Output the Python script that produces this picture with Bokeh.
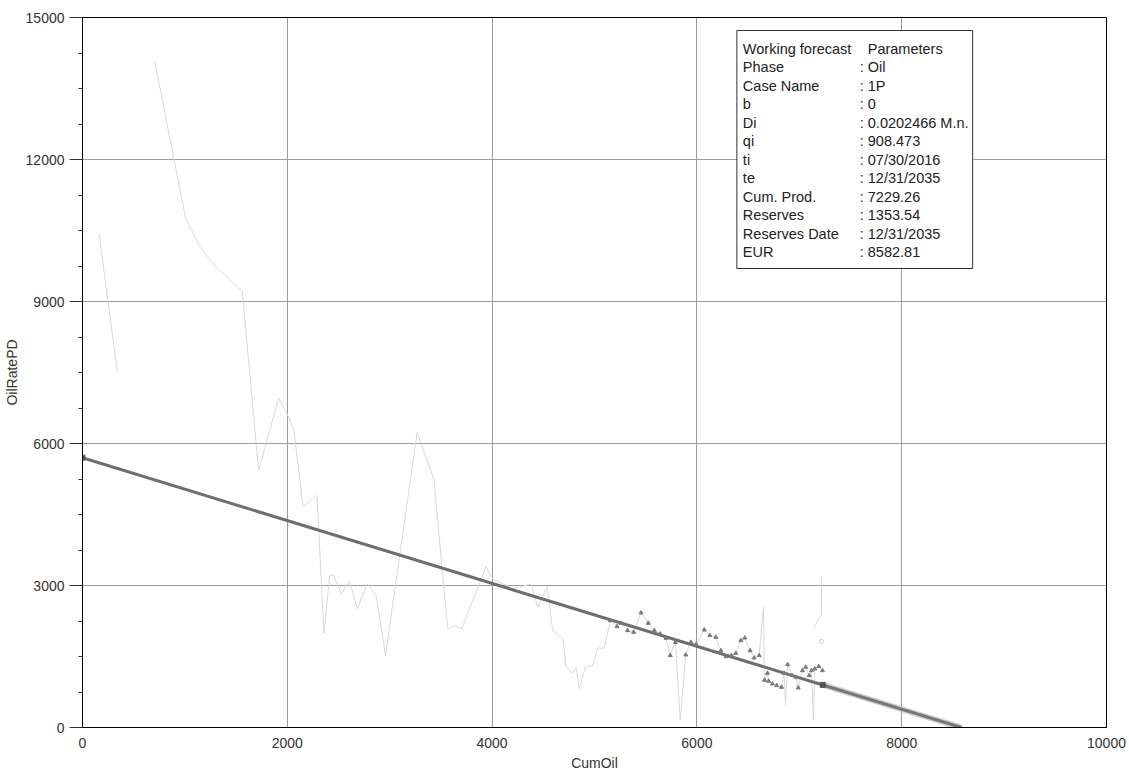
from bokeh.plotting import figure
from bokeh.models import Range1d, FixedTicker
from bokeh.embed import file_html
from bokeh.resources import INLINE
from bokeh.core.properties import value

# ---------------- data ----------------
# Early production history (light line, first segment)
hist1_cum = [163, 341]
hist1_rate = [10410, 7500]

# Main production history (light line)
hist2_cum = [705, 1008, 1150, 1290, 1560, 1720, 1915, 2013, 2065, 2153, 2290, 2358,
             2413, 2452, 2527, 2608, 2683, 2780, 2868, 2959, 3268, 3431, 3567, 3632,
             3704, 3941, 4000, 4200, 4380, 4445, 4537, 4592, 4690, 4722, 4787, 4820,
             4852, 4910, 4982, 5031, 5096, 5154,
             5220, 5259, 5323, 5382, 5454, 5525, 5584, 5642, 5698, 5740, 5790, 5837,
             5892, 5941, 5993, 6072, 6127, 6185, 6234, 6283, 6338, 6380, 6429, 6468,
             6520, 6559, 6608, 6650, 6660, 6689, 6700, 6738, 6780, 6826, 6852, 6865,
             6886, 6930, 6970, 6990, 7031, 7063, 7096, 7119, 7138, 7151, 7190, 7226]
hist2_rate = [14080, 10750, 10150, 9760, 9220, 5430, 6960, 6560, 6280, 4670, 4900, 1980,
              3210, 3210, 2825, 3106, 2508, 3036, 2789, 1521, 6233, 5247, 2085, 2155,
              2085, 3400, 3150, 2930, 3030, 2540, 2980, 2040, 1880, 1280, 1150, 1260,
              817, 1275, 1310, 1680, 1680, 2261,
              2134, 2204, 2049, 2014, 2423, 2204, 2049, 1979, 1887, 1521, 1800, 160,
              1535, 1803, 1760, 2063, 1944, 1908, 1627, 1500, 1521, 1570, 1838, 1894,
              1627, 1472, 1521, 2540, 1000, 1148, 980, 923, 887, 852, 1148, 470,
              1331, 1099, 1063, 838, 1204, 1275, 1099, 1204, 150, 1240, 1290, 1204]

# Points used in the fit (markers)
fit_cum = [5154, 5220, 5259, 5323, 5382, 5454, 5525, 5584, 5642, 5698, 5740, 5790,
           5892, 5941, 5993, 6072, 6127, 6185, 6234, 6283, 6338, 6380, 6429, 6468,
           6520, 6559, 6608, 6660, 6689, 6700, 6738, 6780, 6826, 6852, 6886, 6930,
           6970, 6990, 7031, 7063, 7096, 7119, 7151, 7190, 7226]
fit_rate = [2261, 2134, 2204, 2049, 2014, 2423, 2204, 2049, 1979, 1887, 1521, 1800,
            1535, 1803, 1760, 2063, 1944, 1908, 1627, 1500, 1521, 1570, 1838, 1894,
            1627, 1472, 1521, 1000, 1148, 980, 923, 887, 852, 1148, 1331, 1099,
            1063, 838, 1204, 1275, 1099, 1204, 1240, 1290, 1204]

# Recent test fragment
frag_cum = [7216, 7216, 7175, 7150]
frag_rate = [3180, 2380, 2250, 2110]
frag_pt_cum = [7216]
frag_pt_rate = [1820]

# Forecast (exponential, b = 0) : rate vs cumulative is a straight line
fc_hist_cum = [0, 7229.26]
fc_hist_rate = [5700, 899]
fc_fut_cum = [7229.26, 8582.81]
fc_fut_rate = [899, 0]

x_ticks = [0, 2000, 4000, 6000, 8000, 10000]
y_ticks = [0, 3000, 6000, 9000, 12000, 15000]

param_names = ["Phase", "Case Name", "b", "Di", "qi", "ti", "te", "Cum. Prod.",
               "Reserves", "Reserves Date", "EUR"]
param_values = ["Oil", "1P", "0", "0.0202466 M.n.", "908.473", "07/30/2016",
                "12/31/2035", "7229.26", "1353.54", "12/31/2035", "8582.81"]
header_left = "Working forecast"
header_right = "Parameters"

# ---------------- figure ----------------
FONT = "Liberation Sans"
W, H = 1129, 775
L, R, T, B = 81, 23, 17, 48

p = figure(width=W, height=H, output_backend="svg", toolbar_location=None,
           x_range=Range1d(0, 10000), y_range=Range1d(0, 15000),
           min_border_left=L, min_border_right=R, min_border_top=T, min_border_bottom=B)
p.background_fill_color = "white"
p.border_fill_color = "white"
p.outline_line_color = "black"
p.outline_line_width = 1

# axes
p.xaxis.ticker = FixedTicker(ticks=x_ticks)
minor = [t + k * 750 for t in y_ticks[:-1] for k in (1, 2, 3)]
p.yaxis.ticker = FixedTicker(ticks=y_ticks, minor_ticks=minor)
p.xaxis.axis_label = "CumOil"
p.yaxis.axis_label = "OilRatePD"
for ax in (p.xaxis, p.yaxis):
    ax.axis_line_color = "black"
    ax.axis_line_width = 1
    ax.major_tick_line_color = "#333333"
    ax.minor_tick_line_color = "#333333"
    ax.major_label_text_font = FONT
    ax.major_label_text_font_size = "14px"
    ax.major_label_text_color = "#333333"
    ax.axis_label_text_font = FONT
    ax.axis_label_text_font_size = "14px"
    ax.axis_label_text_font_style = "normal"
    ax.axis_label_text_color = "#333333"
p.xaxis.major_tick_out = 0
p.xaxis.major_tick_in = 0
p.xaxis.minor_tick_out = 0
p.xaxis.minor_tick_in = 0
p.xaxis.major_label_standoff = 10
p.xaxis.axis_label_standoff = 4
p.yaxis.major_tick_out = 13
p.yaxis.major_tick_in = 0
p.yaxis.minor_tick_out = 4
p.yaxis.minor_tick_in = 0
p.yaxis.major_label_standoff = 5
p.yaxis.axis_label_standoff = 3

p.grid.grid_line_color = "#9a9a9a"
p.grid.grid_line_width = 1

LIGHT = "#d8d8d8"
# history
p.line(hist1_cum, hist1_rate, line_color=LIGHT, line_width=1)
p.line(hist2_cum, hist2_rate, line_color=LIGHT, line_width=1)
p.line(frag_cum, frag_rate, line_color=LIGHT, line_width=1)
p.scatter(frag_pt_cum, frag_pt_rate, marker="circle", size=4, fill_color="white",
          line_color="#c8c8c8")

# forecast
p.line(fc_fut_cum, fc_fut_rate, line_color="#c4c4c4", line_width=6, line_alpha=0.8)
p.line(fc_fut_cum, fc_fut_rate, line_color="#777777", line_width=3)
p.line(fc_hist_cum, fc_hist_rate, line_color="#6e6e6e", line_width=3)

# fit points
p.scatter(fit_cum, fit_rate, marker="triangle", size=4, fill_color="#7a7a7a",
          line_color="#7a7a7a")
p.scatter([fc_hist_cum[0], fc_hist_cum[1]], [fc_hist_rate[0], fc_hist_rate[1]],
          marker="square", size=5, fill_color="#555555", line_color="#555555")

# parameter box
def dx(px):
    return (px - L) / (W - L - R) * 10000

def dy(py):
    return (H - B - py) / (H - B - T) * 15000

p.quad(left=[dx(736)], right=[dx(972)], top=[dy(30)], bottom=[dy(268)],
       fill_color="white", line_color="#333333", line_width=1)
row0 = 48.3
step = 18.5
p.text(x=[dx(742)], y=[dy(row0)], text=[header_left], text_font=value(FONT),
       text_font_size="14.5px", text_baseline="middle", text_color="#222222")
p.text(x=[dx(867)], y=[dy(row0)], text=[header_right], text_font=value(FONT),
       text_font_size="14.5px", text_baseline="middle", text_color="#222222")
ys = [dy(row0 + (i + 1) * step) for i in range(len(param_names))]
p.text(x=[dx(742)] * len(param_names), y=ys, text=param_names, text_font=value(FONT),
       text_font_size="14.5px", text_baseline="middle", text_color="#222222")
p.text(x=[dx(859)] * len(param_values), y=ys, text=[": " + v for v in param_values],
       text_font=value(FONT), text_font_size="14.5px", text_baseline="middle",
       text_color="#222222")

open("out.html", "w").write(file_html(p, INLINE))
